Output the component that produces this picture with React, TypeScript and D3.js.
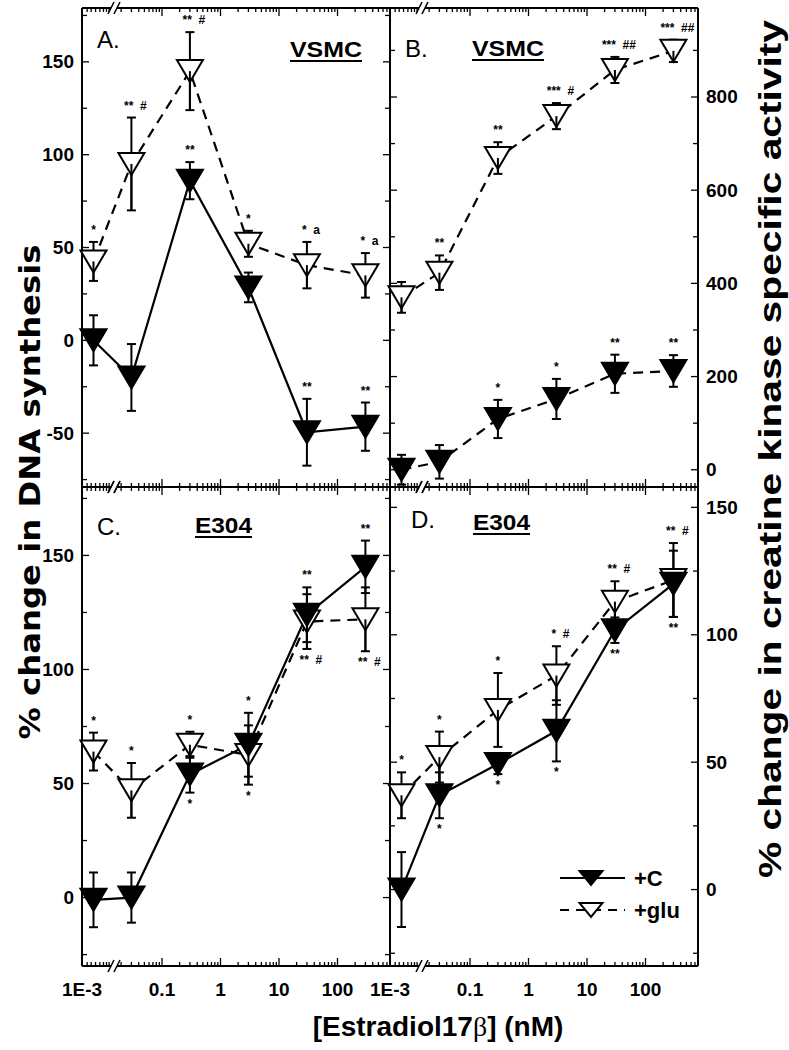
import React from 'react';
import * as d3 from 'd3';

// ---------- data ----------
const concentrations = [0.0018, 0.03, 0.3, 3, 30, 300];

// Panel A: VSMC, DNA synthesis (% change)
const aC = [0, -20, 86, 28.5, -49.5, -46.5];
const aCErr = [13.5, 18, 10, 8, 18, 13];
const aG = [42.5, 95, 145, 52, 40.5, 35];
const aGErr = [10.5, 25, 21, 7, 12.5, 12];

// Panel B: VSMC, creatine kinase specific activity (% change)
const bC = [0, 17, 109, 152, 206, 212];
const bCErr = [32, 36, 41, 43, 41, 34];
const bG = [370, 423, 669, 759, 858, 899];
const bGErr = [33, 37, 34, 28, 28, 24];

// Panel C: E304, DNA synthesis
const cC = [-1, 0, 54, 67, 124, 145];
const cCErr = [12, 11, 8, 14, 12, 11.5];
const cG = [64, 47, 67, 62.5, 121, 122];
const cGErr = [8.3, 12, 5.7, 13, 12, 14];

// Panel D: E304, creatine kinase specific activity
const dC = [0, 37, 49.3, 62.3, 101.8, 120];
const dCErr = [14.7, 9, 4, 12, 5, 13];
const dG = [37, 52, 70.5, 84, 113, 121.5];
const dGErr = [9, 10, 14.5, 11.5, 8, 14.5];

const xTickLabels = ['1E-3', '0.1', '1', '10', '100'];
const xTickValues = [0.001, 0.1, 1, 10, 100];

const aTicks = [-50, 0, 50, 100, 150];
const cTicks = [0, 50, 100, 150];
const bTicks = [0, 200, 400, 600, 800];
const dTicks = [0, 50, 100, 150];

// significance marks: [series, index, text, side]
const aMarks: [string, number, string, string][] = [
  ['g', 0, '*', 'up'], ['g', 1, '**  #', 'up'], ['g', 2, '**  #', 'up'], ['c', 2, '**', 'up'],
  ['g', 3, '*', 'up'], ['g', 4, '*  a', 'up'], ['g', 5, '*  a', 'up'], ['c', 4, '**', 'up'], ['c', 5, '**', 'up'],
];
const bMarks: [string, number, string, string][] = [
  ['g', 1, '**', 'up'], ['g', 2, '**', 'up'], ['g', 3, '***  #', 'up'], ['g', 4, '***  ##', 'up'],
  ['g', 5, '***  ##', 'up'], ['c', 2, '*', 'up'], ['c', 3, '*', 'up'], ['c', 4, '**', 'up'], ['c', 5, '**', 'up'],
];
const cMarks: [string, number, string, string][] = [
  ['g', 0, '*', 'up'], ['g', 1, '*', 'up'], ['g', 2, '*', 'up'], ['c', 2, '*', 'down'], ['g', 3, '*', 'down'],
  ['c', 3, '*', 'up'], ['c', 4, '**', 'up'], ['g', 4, '**  #', 'down'], ['c', 5, '**', 'up'], ['g', 5, '**  #', 'down'],
];
const dMarks: [string, number, string, string][] = [
  ['g', 0, '*', 'up'], ['g', 1, '*', 'up'], ['c', 1, '*', 'down'], ['g', 2, '*', 'up'], ['c', 2, '*', 'down'],
  ['g', 3, '*  #', 'up'], ['c', 3, '*', 'down'], ['g', 4, '**  #', 'up'], ['c', 4, '**', 'down'],
  ['g', 5, '**  #', 'up'], ['c', 5, '**', 'down'],
];

// ---------- layout ----------
const W = 789, H = 1050;
const L = 82, M = 390, R = 698, T = 8, MY = 487, BOT = 966;
const DEC = 58.5;
const FONT = 'Liberation Sans, Arial, Helvetica, sans-serif';

type Panel = {
  key: string; x0: number; x1: number; y0: number; y1: number;
  domain: [number, number]; major: number[]; minorStep: number;
  c: number[]; cErr: number[]; g: number[]; gErr: number[];
  cDash: boolean; letter: string; cell: string; marks: [string, number, string, string][];
  labelSide: 'left' | 'right'; letterX: number; letterY: number; cellX: number; cellY: number;
};

const panels: Panel[] = [
  { key: 'A', x0: L, x1: M, y0: T, y1: MY, domain: [-79, 179], major: aTicks, minorStep: 25,
    c: aC, cErr: aCErr, g: aG, gErr: aGErr, cDash: false, letter: 'A.', cell: 'VSMC', marks: aMarks,
    labelSide: 'left', letterX: 97, letterY: 48, cellX: 290, cellY: 57 },
  { key: 'B', x0: M, x1: R, y0: T, y1: MY, domain: [-37, 991], major: bTicks, minorStep: 100,
    c: bC, cErr: bCErr, g: bG, gErr: bGErr, cDash: true, letter: 'B.', cell: 'VSMC', marks: bMarks,
    labelSide: 'right', letterX: 405, letterY: 57, cellX: 472, cellY: 56 },
  { key: 'C', x0: L, x1: M, y0: MY, y1: BOT, domain: [-30, 180], major: cTicks, minorStep: 25,
    c: cC, cErr: cCErr, g: cG, gErr: cGErr, cDash: false, letter: 'C.', cell: 'E304', marks: cMarks,
    labelSide: 'left', letterX: 97, letterY: 535, cellX: 195, cellY: 533 },
  { key: 'D', x0: M, x1: R, y0: MY, y1: BOT, domain: [-30, 158], major: dTicks, minorStep: 25,
    c: dC, cErr: dCErr, g: dG, gErr: dGErr, cDash: false, letter: 'D.', cell: 'E304', marks: dMarks,
    labelSide: 'right', letterX: 411, letterY: 528, cellX: 473, cellY: 530 },
];

function makeX(x0: number) {
  const main = d3.scaleLog().domain([0.1, 1000]).range([x0 + 80, x0 + 80 + 4 * DEC]);
  const pre = d3.scaleLog().domain([0.001, 0.01]).range([x0, x0 + 45]);
  return (v: number) => (v < 0.01 ? pre(v) : main(v));
}

const TRI_W = 13, TRI_H = 11;
const tri = (x: number, y: number, w = TRI_W, h = TRI_H) =>
  `M${x - w},${y - h}L${x + w},${y - h}L${x},${y + h}Z`;

function PanelView({ p }: { p: Panel }) {
  const xf = makeX(p.x0);
  const y = d3.scaleLinear().domain(p.domain).range([p.y1, p.y0]);
  const xs = concentrations.map(xf);
  const line = d3.line<number>().x((_, i) => xs[i]).y((d) => y(d));

  const xMain = d3.scaleLog().domain([0.1, 1000]).range([p.x0 + 80, p.x0 + 80 + 4 * DEC]);
  const xMinor: number[] = [];
  for (let e = -2; e <= 2; e++) for (let k = 1; k <= 9; k++) {
    const v = k * Math.pow(10, e);
    const px = xMain(v);
    if (px > p.x0 + 36 && px < p.x1 - 1) xMinor.push(v);
  }
  const preMinor = [0.0013, 0.0016, 0.002, 0.0025, 0.003, 0.0035, 0.004];
  const yMinor = d3.range(Math.ceil(p.domain[0] / p.minorStep) * p.minorStep, p.domain[1], p.minorStep);

  const breakX = p.x0 + 31;
  const cap = 4.5;

  const errBars = (vals: number[], errs: number[]) =>
    vals.map((v, i) => {
      const x = xs[i];
      const yt = y(v + errs[i]), yb = y(v - errs[i]);
      return (
        <g key={i}>
          <line x1={x} x2={x} y1={yt} y2={yb} stroke="#000" strokeWidth={2} />
          <line x1={x - cap} x2={x + cap} y1={yt} y2={yt} stroke="#000" strokeWidth={2} />
          <line x1={x - cap} x2={x + cap} y1={yb} y2={yb} stroke="#000" strokeWidth={2} />
        </g>
      );
    });

  const markers = (vals: number[], errs: number[], open: boolean) =>
    vals.map((v, i) => (
      <g key={i}>
        <path d={tri(xs[i], y(v))} fill={open ? '#fff' : '#000'} stroke="#000" strokeWidth={2} />
        {open && <line x1={xs[i]} x2={xs[i]} y1={y(v)} y2={y(v - errs[i])} stroke="#000" strokeWidth={2} />}
      </g>
    ));

  const marks = p.marks.map(([s, i, txt, side], k) => {
    const vals = s === 'g' ? p.g : p.c;
    const errs = s === 'g' ? p.gErr : p.cErr;
    const x = xs[i];
    const yy = side === 'up' ? y(vals[i] + errs[i]) - 8 : y(vals[i] - errs[i]) + 15;
    return (
      <text key={k} x={x + (txt.length > 2 ? 4 : 0)} y={yy} fontSize={12} fontWeight="bold"
        fontFamily={FONT} textAnchor="middle" style={{ whiteSpace: 'pre' }}>{txt}</text>
    );
  });

  const isBottom = p.y1 === BOT;
  const cellW = p.cell === 'VSMC' ? 72 : 57;

  return (
    <g>
      <line x1={p.x0} x2={p.x0} y1={p.y0} y2={p.y1} stroke="#000" strokeWidth={2} />
      <line x1={p.x1} x2={p.x1} y1={p.y0} y2={p.y1} stroke="#000" strokeWidth={2} />
      {[p.y0, p.y1].map((yy, k) => (
        <g key={k}>
          <line x1={p.x0} x2={breakX - 2} y1={yy} y2={yy} stroke="#000" strokeWidth={2} />
          <line x1={breakX + 4} x2={p.x1} y1={yy} y2={yy} stroke="#000" strokeWidth={2} />
          <line x1={breakX - 5} x2={breakX + 1} y1={yy + 6} y2={yy - 6} stroke="#000" strokeWidth={1.5} />
          <line x1={breakX + 1} x2={breakX + 7} y1={yy + 6} y2={yy - 6} stroke="#000" strokeWidth={1.5} />
        </g>
      ))}
      {[{ yy: p.y0, dir: 1 }, { yy: p.y1, dir: -1 }].map(({ yy, dir }, k) => (
        <g key={k}>
          {xMinor.map((v, i) => {
            const isMaj = Math.abs(Math.log10(v) - Math.round(Math.log10(v))) < 1e-6;
            const len = isMaj ? 8 : 4;
            return <line key={i} x1={xMain(v)} x2={xMain(v)} y1={yy} y2={yy + dir * len} stroke="#000" strokeWidth={1.3} />;
          })}
          {preMinor.map((v, i) => (
            <line key={'p' + i} x1={xf(v)} x2={xf(v)} y1={yy} y2={yy + dir * 4} stroke="#000" strokeWidth={1.3} />
          ))}
        </g>
      ))}
      {[{ xx: p.x0, dir: 1 }, { xx: p.x1, dir: -1 }].map(({ xx, dir }, k) => (
        <g key={k}>
          {yMinor.map((v, i) => (
            <line key={i} x1={xx} x2={xx + dir * (p.major.includes(v) ? 7 : 5)} y1={y(v)} y2={y(v)} stroke="#000" strokeWidth={1.3} />
          ))}
        </g>
      ))}
      {p.major.map((v, i) => (
        <text key={i} x={p.labelSide === 'left' ? p.x0 - 8 : p.x1 + 8} y={y(v) + 6.5}
          textAnchor={p.labelSide === 'left' ? 'end' : 'start'} fontSize={19} fontWeight="bold" fontFamily={FONT}>
          {v}
        </text>
      ))}
      {isBottom && xTickValues.map((v, i) => (
        <text key={i} x={i === 0 ? p.x0 : xMain(v)} y={996} textAnchor="middle" fontSize={19}
          fontWeight="bold" fontFamily={FONT}>{xTickLabels[i]}</text>
      ))}
      <path d={line(p.c) || ''} fill="none" stroke="#000" strokeWidth={2.2}
        strokeDasharray={p.cDash ? '10 7' : undefined} />
      <path d={line(p.g) || ''} fill="none" stroke="#000" strokeWidth={2.2} strokeDasharray="10 7" />
      {errBars(p.g, p.gErr)}
      {errBars(p.c, p.cErr)}
      {markers(p.g, p.gErr, true)}
      {markers(p.c, p.cErr, false)}
      {marks}
      <text x={p.letterX} y={p.letterY} fontSize={24} fontFamily={FONT}>{p.letter}</text>
      <text x={p.cellX} y={p.cellY} fontSize={22} fontWeight="bold" fontFamily={FONT}
        textLength={cellW} lengthAdjust="spacingAndGlyphs">{p.cell}</text>
      <line x1={p.cellX} x2={p.cellX + cellW} y1={p.cellY + 4} y2={p.cellY + 4} stroke="#000" strokeWidth={2} />
    </g>
  );
}

export default function App() {
  const lx = 560, lx2 = 625, lmid = 591;
  return (
    <svg width={W} height={H} style={{ display: 'block', position: 'absolute', left: 0, top: 0, background: '#fff' }}>
      <rect width={W} height={H} fill="#fff" />
      {panels.map((p) => <PanelView key={p.key} p={p} />)}
      <line x1={lx} x2={lx2} y1={878} y2={878} stroke="#000" strokeWidth={2.2} />
      <path d={tri(lmid, 878, 11.5, 7)} fill="#000" stroke="#000" strokeWidth={2} />
      <text x={634} y={886} fontSize={22} fontWeight="bold" fontFamily={FONT}>+C</text>
      <line x1={lx} x2={lx2} y1={910} y2={910} stroke="#000" strokeWidth={2.2} strokeDasharray="9 7" />
      <path d={tri(lmid, 910, 11.5, 7)} fill="#fff" stroke="#000" strokeWidth={2} />
      <text x={634} y={918} fontSize={22} fontWeight="bold" fontFamily={FONT}>+glu</text>
      <text transform="translate(40,492) rotate(-90)" textAnchor="middle" fontSize={28} fontWeight="bold"
        fontFamily="Liberation Sans Narrow, DejaVu Sans Condensed, Arial, sans-serif"
        textLength={495} lengthAdjust="spacingAndGlyphs">% change in DNA synthesis</text>
      <text transform="translate(781,449) rotate(-90)" textAnchor="middle" fontSize={31} fontWeight="bold"
        fontFamily={FONT} textLength={858} lengthAdjust="spacingAndGlyphs">% change in creatine kinase specific activity</text>
      <text x={438} y={1036} textAnchor="middle" fontSize={28} fontWeight="bold" fontFamily={FONT}>
        [Estradiol17<tspan fontFamily="Liberation Serif, Times New Roman, serif" fontWeight="normal">β</tspan>] (nM)
      </text>
    </svg>
  );
}
